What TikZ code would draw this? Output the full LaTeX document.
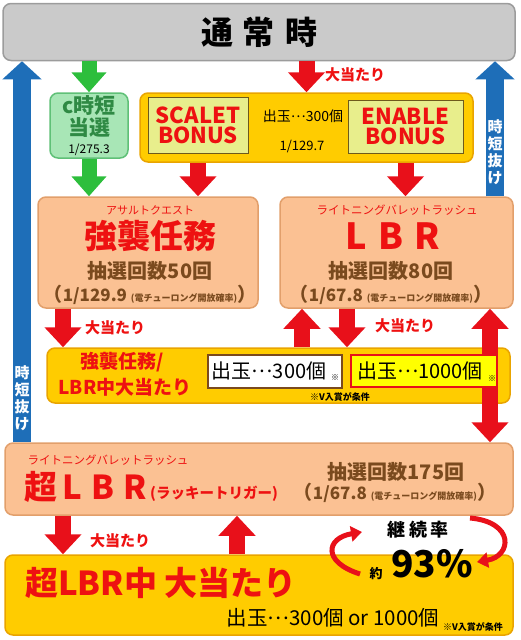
\documentclass[tikz,border=0pt]{standalone}
\usepackage{fontspec}
\setmainfont{Noto Sans CJK JP}
\usetikzlibrary{arrows.meta, positioning, calc}

\newcommand\setfs[1]{\fontsize{#1}{#1}\selectfont}
\newcommand\midell{\raisebox{.3em}{…}}

\definecolor{boxgray}{HTML}{CACACA}
\definecolor{edgegray}{HTML}{9C9C9C}
\definecolor{boxgreen}{HTML}{A8E6B6}
\definecolor{edgegreen}{HTML}{5FC077}
\definecolor{txtgreen}{HTML}{2F8A44}
\definecolor{arrowgreen}{HTML}{2DBE3C}
\definecolor{boxyellow}{HTML}{FFCC00}
\definecolor{edgeyellow}{HTML}{E9A400}
\definecolor{boxlime}{HTML}{E8EE8C}
\definecolor{edgeolive}{HTML}{6E5A1C}
\definecolor{boxpeach}{HTML}{FBC193}
\definecolor{edgepeach}{HTML}{E29F6B}
\definecolor{txtbrown}{HTML}{7A4A1E}
\definecolor{txtred}{HTML}{EE1111}
\definecolor{arrowred}{HTML}{E8101A}
\definecolor{arrowblue}{HTML}{1E6EB8}
\definecolor{outyellow}{HTML}{FFFF00}

\tikzset{
  box/.style={rounded corners=8pt, line width=1.5pt, inner sep=0pt, font=\bfseries},
  graybox/.style={box, fill=boxgray, draw=edgegray},
  greenbox/.style={box, fill=boxgreen, draw=edgegreen},
  yellowbox/.style={box, fill=boxyellow, draw=edgeyellow},
  peachbox/.style={box, fill=boxpeach, draw=edgepeach},
  bonusbox/.style={fill=boxlime, draw=edgeolive, line width=1pt, inner sep=0pt, font=\bfseries},
  outbox/.style={line width=1.5pt, inner sep=0pt},
  txt/.style={inner sep=0pt, font=\bfseries},
  redtxt/.style={txt, text=txtred},
  browntxt/.style={txt, text=txtbrown},
  vlabel/.style={txt, text=white, align=center, font=\bfseries\setfs{15}},
  redarrow/.style={draw=arrowred, line width=16pt, -{Triangle[length=20pt, width=36pt]}},
  redboth/.style={draw=arrowred, line width=16pt, {Triangle[length=20pt, width=36pt]}-{Triangle[length=20pt, width=36pt]}},
  greenarrow/.style={draw=arrowgreen, line width=15pt, -{Triangle[length=20pt, width=34pt]}},
  bluearrow/.style={draw=arrowblue, line width=18pt, -{Triangle[length=18pt, width=38pt]}},
  curlarrow/.style={draw=arrowred, line width=5pt, -{Triangle[length=11pt, width=15pt]}},
}

\begin{document}
\begin{tikzpicture}[x=1pt, y=-1pt]
    \useasboundingbox (0,0) rectangle (520,640);

    % Normal mode
    \node[graybox, minimum width=512pt, minimum height=57pt] (normal) at (259,32)
        {\setfs{32}通\hspace{10pt}常\hspace{10pt}時};

    % c-jitan and bonuses
    \node[greenbox, minimum width=78pt, minimum height=65pt] (ctime) at (89,125.5) {};
    \node[txt, text=txtgreen, font=\bfseries\setfs{21}] (ctimename) at (89,106) {c時短};
    \node[txt, text=txtgreen, font=\bfseries\setfs{21}] (ctimehit) at (89,128) {当選};
    \node[txt, font=\setfs{12}] (ctimeprob) at (89,150) {1/275.3};

    \node[yellowbox, minimum width=333pt, minimum height=69pt] (bonus) at (306.5,127.5) {};
    \node[bonusbox, minimum width=100pt, minimum height=56pt, align=center, text=txtred, font=\bfseries\setfs{22}] (scalet) at (198,125)
        {SCALET\\[-2pt]BONUS};
    \node[bonusbox, minimum width=115pt, minimum height=53pt, align=center, text=txtred, font=\bfseries\setfs{22}] (enable) at (405.5,126.5)
        {ENABLE\\[-2pt]BONUS};
    \node[txt, font=\setfs{14}] (bonusout) at (303,116) {出玉\midell 300個};
    \node[txt, font=\setfs{13}] (bonusprob) at (302,147) {1/129.7};

    % Assault quest and LBR
    \node[peachbox, minimum width=220pt, minimum height=111pt] (assault) at (148,252.5) {};
    \node[redtxt, font=\setfs{11}] (assaultkana) at (150,210) {アサルトクエスト};
    \node[redtxt, font=\bfseries\setfs{33}] (assaultname) at (150,236) {強襲任務};
    \node[browntxt, font=\bfseries\setfs{20}] (assaultdraw) at (150,271) {抽選回数50回};
    \node[browntxt] (assaultprob) at (150,295)
        {\setfs{19}（\setfs{17}1/129.9 \setfs{9}(電チューロング開放確率)\setfs{19}）};

    \node[peachbox, minimum width=233pt, minimum height=111pt] (lbr) at (396.5,252.5) {};
    \node[redtxt, font=\setfs{11.5}] (lbrkana) at (397,210) {ライトニングバレットラッシュ};
    \node[redtxt, font=\bfseries\setfs{36}] (lbrname) at (393,236) {L\hspace{11pt}B\hspace{11pt}R};
    \node[browntxt, font=\bfseries\setfs{20}] (lbrdraw) at (391,271) {抽選回数80回};
    \node[browntxt] (lbrprob) at (391,295)
        {\setfs{19}（\setfs{17}1/67.8 \setfs{9}(電チューロング開放確率)\setfs{19}）};

    % Jackpot during assault / LBR
    \node[yellowbox, minimum width=463pt, minimum height=55pt] (jackpot) at (278.5,375.5) {};
    \node[redtxt, font=\bfseries\setfs{19}] (jackpotA) at (122,362) {強襲任務/};
    \node[redtxt, font=\bfseries\setfs{19}] (jackpotB) at (125,387) {LBR中大当たり};
    \node[txt, font=\bfseries\setfs{9}] (jackpotnote) at (340,397) {※V入賞が条件};

    % Super LBR
    \node[peachbox, minimum width=508pt, minimum height=72pt] (super) at (259,479) {};
    \node[redtxt, font=\setfs{11.5}] (superkana) at (108,460) {ライトニングバレットラッシュ};
    \node[redtxt, font=\bfseries\setfs{33}] (supername) at (86,487) {超\hspace{5pt}L\hspace{9pt}B\hspace{9pt}R};
    \node[redtxt, font=\bfseries\setfs{14.5}] (supertrig) at (214,494) {(ラッキートリガー)};
    \node[browntxt, font=\bfseries\setfs{20}] (superdraw) at (396,472) {抽選回数175回};
    \node[browntxt] (superprob) at (395,493)
        {\setfs{19}（\setfs{17}1/67.8 \setfs{9}(電チューロング開放確率)\setfs{19}）};

    % Jackpot during super LBR
    \node[yellowbox, minimum width=508pt, minimum height=80pt] (superhit) at (259,595) {};
    \node[redtxt, font=\bfseries\setfs{33}] (superhitname) at (161,583) {超LBR中 大当たり};
    \node[txt, font=\setfs{20.5}] (superhitout) at (333,618) {出玉\midell 300個 or 1000個};
    \node[txt, font=\bfseries\setfs{9}] (superhitnote) at (473,627) {※V入賞が条件};

    % Lanes of the arrows
    \coordinate (laneA) at (22,0);
    \coordinate (laneB) at (495,0);
    \coordinate (laneD) at (63,0);
    \coordinate (laneE) at (302,0);
    \coordinate (laneF) at (347,0);
    \coordinate (laneG) at (490,0);
    \coordinate (laneH) at (237,0);

    % Jitan exit
    \draw[bluearrow] (super.north -| laneA) -- (normal.south -| laneA);
    \draw[bluearrow] (lbr.north -| laneB) -- (normal.south -| laneB);
    \node[vlabel] (exitL) at (22,398) {時\\[2pt]短\\[2pt]抜\\[2pt]け};
    \node[vlabel] (exitR) at (495,152) {時\\[2pt]短\\[2pt]抜\\[2pt]け};

    % c-jitan route
    \draw[greenarrow] (normal.south -| ctime) -- (ctime.north);
    \draw[greenarrow] (ctime.south) -- (ctime.south |- assault.north);

    % Jackpot routes
    \draw[redarrow] (normal.south -| bonus) -- (bonus.north);
    \node[redtxt, font=\bfseries\setfs{15}] (hitA) at (355,75) {大当たり};
    \draw[redarrow] (scalet |- bonus.south) -- (scalet |- assault.north);
    \draw[redarrow] (enable |- bonus.south) -- (enable |- lbr.north);
    \draw[redarrow] (assault.south -| laneD) -- (jackpot.north -| laneD);
    \node[redtxt, font=\bfseries\setfs{15}] (hitB) at (115,328) {大当たり};
    \draw[redarrow] (jackpot.north -| laneE) -- (lbr.south -| laneE);
    \draw[redarrow] (lbr.south -| laneF) -- (jackpot.north -| laneF);
    \node[redtxt, font=\bfseries\setfs{15}] (hitC) at (405,326) {大当たり};
    \draw[redboth] (lbr.south -| laneG) -- (super.north -| laneG);
    \draw[redarrow] (super.south -| laneD) -- (superhit.north -| laneD);
    \node[redtxt, font=\bfseries\setfs{15}] (hitD) at (120,541) {大当たり};
    \draw[redarrow] (superhit.north -| laneH) -- (super.south -| laneH);

    % Payouts
    \node[outbox, fill=white, draw=txtbrown, minimum width=134pt, minimum height=33pt] (out300) at (275,371.5) {};
    \node[txt, font=\setfs{20}] (out300txt) at (269,371) {出玉\midell 300個};
    \node[txt, font=\setfs{8}] (out300mark) at (335,378) {※};
    \node[outbox, fill=outyellow, draw=arrowred, minimum width=146pt, minimum height=32pt] (out1000) at (424,371) {};
    \node[txt, font=\setfs{20}] (out1000txt) at (420,371) {出玉\midell 1000個};
    \node[txt, font=\setfs{8}] (out1000mark) at (492,379) {※};

    % Continuation rate
    \draw[curlarrow] (360,574) .. controls (322,562) and (326,538) .. (362,532);
    \draw[curlarrow] (470,518) .. controls (515,522) and (512,556) .. (477,562);
    \node[txt, font=\bfseries\setfs{18}] (rate) at (418,530) {継\hspace{4pt}続\hspace{4pt}率};
    \node[txt, font=\bfseries\setfs{13}] (rateabout) at (376,574) {約};
    \node[txt, font=\bfseries\setfs{37}] (ratevalue) at (432,564) {93\%};
\end{tikzpicture}
\end{document}
